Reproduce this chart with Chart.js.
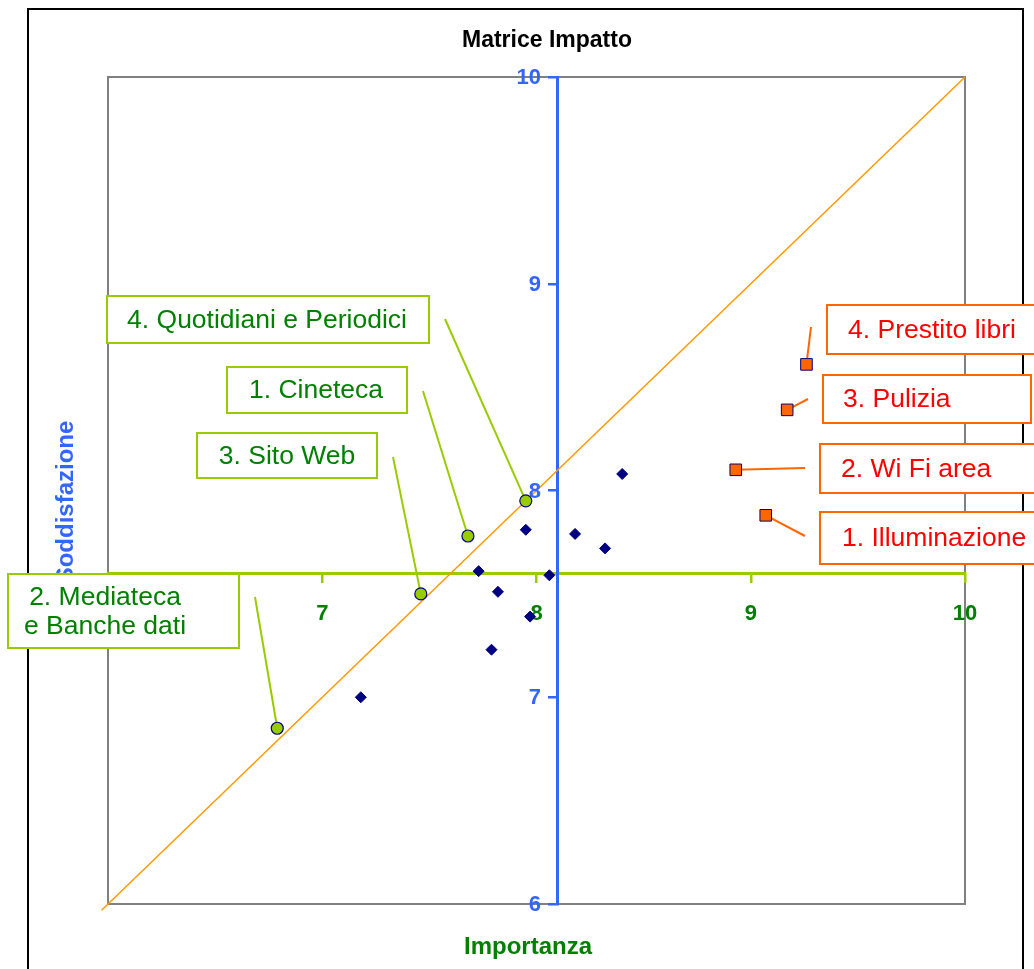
<!DOCTYPE html>
<html>
<head>
<meta charset="utf-8">
<title>Matrice Impatto</title>
<script src="https://cdn.jsdelivr.net/npm/chart.js@4/dist/chart.umd.min.js"></script>
<style>
  html, body { margin: 0; padding: 0; background: #ffffff; }
  canvas { display: block; }
</style>
</head>
<body>
<canvas id="chart" width="1034" height="969"></canvas>
<script>
// ---- data -------------------------------------------------------------
const redLabels   = ['1. Illuminazione', '2. Wi Fi area', '3. Pulizia', '4. Prestito libri'];
const redX        = [9.07, 8.93, 9.17, 9.26];
const redY        = [7.88, 8.10, 8.39, 8.61];

const greenLabels = ['1. Cineteca', '2. Mediateca\ne Banche dati', '3. Sito Web', '4. Quotidiani e Periodici'];
const greenX      = [7.68, 6.79, 7.46, 7.95];
const greenY      = [7.78, 6.85, 7.50, 7.95];

const otherX      = [8.40, 7.95, 8.18, 8.32, 7.73, 8.06, 7.82, 7.97, 7.79, 7.18];
const otherY      = [8.08, 7.81, 7.79, 7.72, 7.61, 7.59, 7.51, 7.39, 7.23, 7.00];

const diagonalX   = [5.97, 10];
const diagonalY   = [5.97, 10];

const axisMin = 6, axisMax = 10;
const crossX  = 8.1;   // where the vertical axis crosses
const crossY  = 7.6;   // where the horizontal axis crosses

const titleText  = 'Matrice Impatto';
const xAxisTitle = 'Importanza';
const yAxisTitle = 'Soddisfazione';

// ---- callout layout (box: left, top, right, bottom; anchor: leader start) ----
const redBoxes = [
  { box: [820, 512, 1040, 564], anchor: [805, 536], textX: 842, align: 'left' },
  { box: [820, 444, 1040, 493], anchor: [805, 468], textX: 841, align: 'left' },
  { box: [823, 375, 1031, 423], anchor: [808, 399], textX: 843, align: 'left' },
  { box: [827, 305, 1040, 354], anchor: [811, 327], textX: 848, align: 'left' }
];
const greenBoxes = [
  { box: [227, 367, 407, 413], anchor: [423, 391], textX: 316, align: 'center' },
  { box: [8, 574, 239, 648],   anchor: [255, 597], textX: 105, align: 'center' },
  { box: [197, 433, 377, 478], anchor: [393, 457], textX: 287, align: 'center' },
  { box: [107, 296, 429, 343], anchor: [445, 319], textX: 267, align: 'center' }
];

const FONT = "'Liberation Sans', Arial, Helvetica, sans-serif";
const ORANGE = '#FF6600', RED = '#FF0000', LIME = '#99CC00', GREEN = '#008000';
const BLUE = '#3366FF', NAVY = '#000080';
const TICK_FONT = { family: FONT, size: 22, weight: 'bold' };

const toPoints = (xs, ys) => xs.map((x, i) => ({ x, y: ys[i] }));

// ---- plugin: frames, titles, y tick labels, callouts --------------------
const decorations = {
  id: 'decorations',
  beforeDraw(chart) {
    const { ctx, chartArea: a } = chart;
    ctx.save();
    ctx.fillStyle = '#ffffff';
    ctx.fillRect(0, 0, chart.width, chart.height);
    // outer frame
    ctx.strokeStyle = '#000000';
    ctx.lineWidth = 2;
    ctx.strokeRect(28, 9, 995, 1000);
    // plot frame
    ctx.strokeStyle = '#808080';
    ctx.lineWidth = 2;
    ctx.strokeRect(a.left, a.top, a.right - a.left, a.bottom - a.top);
    ctx.restore();
  },
  beforeDatasetsDraw(chart) {
    const { ctx, scales } = chart;
    const leaders = (boxes, xs, ys, color) => {
      ctx.strokeStyle = color;
      ctx.lineWidth = 2;
      boxes.forEach((b, i) => {
        ctx.beginPath();
        ctx.moveTo(b.anchor[0], b.anchor[1]);
        ctx.lineTo(scales.x.getPixelForValue(xs[i]), scales.y.getPixelForValue(ys[i]));
        ctx.stroke();
      });
    };
    ctx.save();
    leaders(redBoxes, redX, redY, ORANGE);
    leaders(greenBoxes, greenX, greenY, LIME);
    ctx.restore();
  },
  afterDraw(chart) {
    const { ctx, scales } = chart;
    ctx.save();
    // chart title
    ctx.fillStyle = '#000000';
    ctx.font = `bold 23px ${FONT}`;
    ctx.textAlign = 'center';
    ctx.textBaseline = 'middle';
    ctx.fillText(titleText, 547, 41);
    // y tick labels, to the left of the vertical axis
    const yScale = scales.y;
    const axisPx = scales.x.getPixelForValue(crossX);
    ctx.fillStyle = BLUE;
    ctx.font = `bold ${TICK_FONT.size}px ${FONT}`;
    ctx.textAlign = 'right';
    yScale.ticks.forEach(t => {
      ctx.fillText(String(t.label ?? t.value), axisPx - 17, yScale.getPixelForValue(t.value) + 1);
    });
    // axis titles
    ctx.textAlign = 'center';
    ctx.fillStyle = GREEN;
    ctx.font = `bold 24px ${FONT}`;
    ctx.fillText(xAxisTitle, 528, 947);
    ctx.save();
    ctx.translate(66, 502);
    ctx.rotate(-Math.PI / 2);
    ctx.fillStyle = BLUE;
    ctx.fillText(yAxisTitle, 0, 0);
    ctx.restore();
    // callout boxes
    const boxes = (list, labels, border, color) => {
      list.forEach((b, i) => {
        const [l, t, r, btm] = b.box;
        ctx.fillStyle = '#ffffff';
        ctx.fillRect(l, t, r - l, btm - t);
        ctx.strokeStyle = border;
        ctx.lineWidth = 2;
        ctx.strokeRect(l, t, r - l, btm - t);
        const lines = labels[i].split('\n');
        ctx.fillStyle = color;
        ctx.font = `26.5px ${FONT}`;
        ctx.textAlign = b.align;
        ctx.textBaseline = 'middle';
        const lh = 29;
        const cy = (t + btm) / 2 + 1 - (lines.length - 1) * lh / 2;
        lines.forEach((s, k) => ctx.fillText(s, b.textX, cy + k * lh));
      });
    };
    boxes(redBoxes, redLabels, ORANGE, RED);
    boxes(greenBoxes, greenLabels, LIME, GREEN);
    ctx.restore();
  }
};

new Chart(document.getElementById('chart'), {
  type: 'scatter',
  data: {
    datasets: [
      {
        label: 'diagonale',
        data: toPoints(diagonalX, diagonalY),
        showLine: true,
        borderColor: '#FF9900',
        borderWidth: 1.5,
        pointRadius: 0,
        fill: false,
        clip: false,
        order: 4
      },
      {
        label: 'altri servizi',
        data: toPoints(otherX, otherY),
        pointStyle: 'rectRot',
        pointRadius: 5.5,
        backgroundColor: NAVY,
        borderColor: NAVY,
        borderWidth: 1,
        order: 3
      },
      {
        label: 'punti di debolezza',
        data: toPoints(greenX, greenY),
        pointStyle: 'circle',
        pointRadius: 6,
        backgroundColor: LIME,
        borderColor: NAVY,
        borderWidth: 1.2,
        order: 2
      },
      {
        label: 'punti di forza',
        data: toPoints(redX, redY),
        pointStyle: 'rect',
        pointRadius: 8.2,
        backgroundColor: ORANGE,
        borderColor: NAVY,
        borderWidth: 1,
        order: 1
      }
    ]
  },
  options: {
    responsive: false,
    animation: false,
    layout: { padding: { left: 108, top: 77, right: 69, bottom: 65 } },
    plugins: {
      legend: { display: false },
      tooltip: { enabled: false },
      title: { display: false }
    },
    scales: {
      x: {
        type: 'linear',
        min: axisMin,
        max: axisMax,
        position: { y: crossY },
        grid: { drawOnChartArea: false, drawTicks: true, tickLength: 8, color: LIME, lineWidth: 2.5 },
        border: { display: true, color: LIME, width: 3 },
        ticks: { stepSize: 1, color: GREEN, padding: 20, font: TICK_FONT }
      },
      y: {
        type: 'linear',
        min: axisMin,
        max: axisMax,
        position: { x: crossX },
        grid: { drawOnChartArea: false, drawTicks: true, tickLength: 8, color: BLUE, lineWidth: 2.5 },
        border: { display: true, color: BLUE, width: 3 },
        ticks: { stepSize: 1, display: false, font: TICK_FONT }
      }
    }
  },
  plugins: [decorations]
});
</script>
</body>
</html>
